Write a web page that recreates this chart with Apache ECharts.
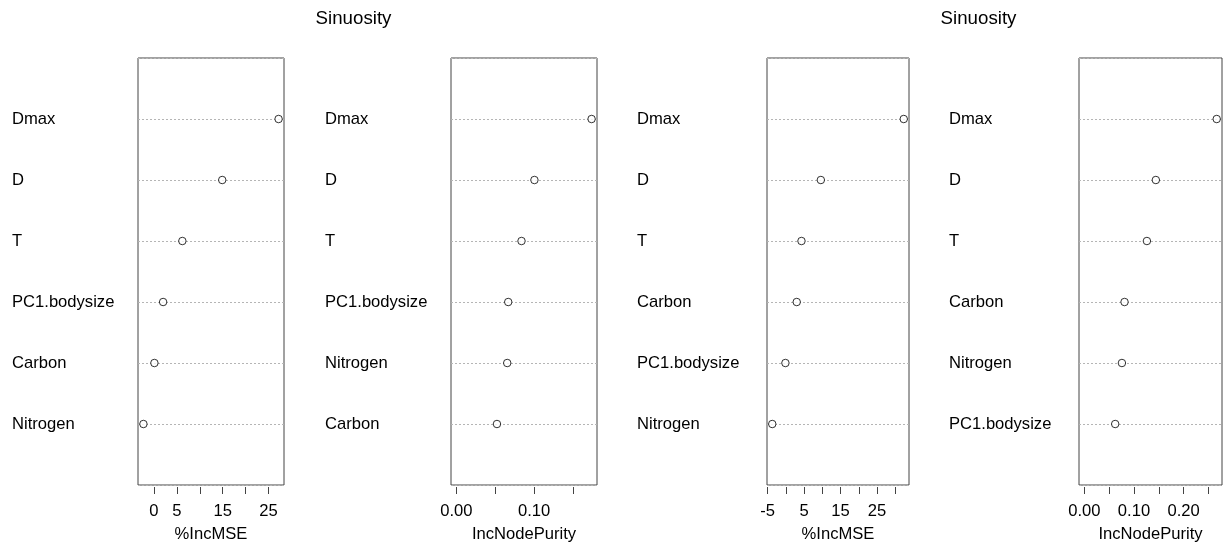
<!DOCTYPE html>
<html>
<head>
<meta charset="utf-8">
<script src="https://cdn.jsdelivr.net/npm/echarts@6/dist/echarts.min.js"></script>
<style>html,body{margin:0;padding:0;background:#fff}#c{width:1227px;height:546px}</style>
</head>
<body>
<div id="c"></div>
<script>
// ---- data ----
const titleText = 'Sinuosity';

const p1Names = ['Dmax', 'D', 'T', 'PC1.bodysize', 'Carbon', 'Nitrogen'];
const p1Values = [27.2, 14.9, 6.2, 2.0, 0.1, -2.3];
const p1Ticks = [0, 5, 10, 15, 20, 25];
const p1Labels = [0, 5, 15, 25];

const p2Names = ['Dmax', 'D', 'T', 'PC1.bodysize', 'Nitrogen', 'Carbon'];
const p2Values = [0.174, 0.1004, 0.0838, 0.0667, 0.0654, 0.0522];
const p2Ticks = [0, 0.05, 0.10, 0.15];
const p2Labels = [0, 0.10];

const p3Names = ['Dmax', 'D', 'T', 'Carbon', 'PC1.bodysize', 'Nitrogen'];
const p3Values = [32.3, 9.6, 4.3, 3.0, -0.1, -3.7];
const p3Ticks = [-5, 0, 5, 10, 15, 20, 25, 30];
const p3Labels = [-5, 5, 15, 25];

const p4Names = ['Dmax', 'D', 'T', 'Carbon', 'Nitrogen', 'PC1.bodysize'];
const p4Values = [0.2665, 0.144, 0.126, 0.081, 0.0757, 0.0622];
const p4Ticks = [0, 0.05, 0.10, 0.15, 0.20, 0.25];
const p4Labels = [0, 0.10, 0.20];

const xNames = ['%IncMSE', 'IncNodePurity', '%IncMSE', 'IncNodePurity'];

// ---- layout ----
const panels = [
  {names: p1Names, values: p1Values, ticks: p1Ticks, labels: p1Labels, left: 138, width: 146, labelX: 12, dec: 0, zeroMin: false},
  {names: p2Names, values: p2Values, ticks: p2Ticks, labels: p2Labels, left: 451, width: 146, labelX: 325, dec: 2, zeroMin: true},
  {names: p3Names, values: p3Values, ticks: p3Ticks, labels: p3Labels, left: 767, width: 142, labelX: 637, dec: 0, zeroMin: false},
  {names: p4Names, values: p4Values, ticks: p4Ticks, labels: p4Labels, left: 1079, width: 143, labelX: 949, dec: 2, zeroMin: true}
];
const gridTop = 58, gridHeight = 427;
const FONT = 'Liberation Sans, Arial, sans-serif';
const FS = 16.6;

const grid = [], xAxis = [], yAxis = [], series = [];
panels.forEach((p, i) => {
  const n = p.names.length;
  let lo = Math.min(...p.values), hi = Math.max(...p.values);
  if (p.zeroMin) lo = Math.min(0, lo);
  const pad = (hi - lo) * 0.04;
  grid.push({left: p.left, top: gridTop, width: p.width, height: gridHeight,
    outerBoundsMode: 'none', containLabel: false,
    show: true, borderColor: '#444', borderWidth: 1, backgroundColor: 'transparent'});
  xAxis.push({
    type: 'value', gridIndex: i, position: 'bottom', min: lo - pad, max: hi + pad, offset: 2,
    axisLine: {show: true, onZero: false, lineStyle: {color: '#444', opacity: 0}},
    axisTick: {show: true, inside: false, length: 7, customValues: p.ticks, lineStyle: {color: '#444', opacity: 1}},
    axisLabel: {customValues: p.labels, margin: 16, color: '#000', fontSize: FS, fontFamily: FONT,
      formatter: v => Number(v).toFixed(p.dec)},
    splitLine: {show: false},
    name: xNames[i], nameLocation: 'middle', nameGap: 39,
    nameTextStyle: {color: '#000', fontSize: FS, fontFamily: FONT}
  });
  yAxis.push({
    type: 'value', gridIndex: i, min: 0, max: n + 1, interval: 1, inverse: true,
    axisLine: {show: false}, axisTick: {show: false},
    axisLabel: {align: 'left', margin: p.left - p.labelX, color: '#000', fontSize: FS, fontFamily: FONT,
      padding: [13, 0, 0, 0],
      formatter: v => (v >= 1 && v <= n) ? p.names[v - 1] : ''},
    splitLine: {show: true, lineStyle: {color: '#b5b5b5', type: [2, 2], width: 1}}
  });
  series.push({
    type: 'scatter', xAxisIndex: i, yAxisIndex: i, z: 3,
    symbol: 'circle', symbolSize: 7.5,
    itemStyle: {color: '#fff', borderColor: '#000', borderWidth: 1},
    data: p.values.map((v, k) => [v, k + 1])
  });
});

const chart = echarts.init(document.getElementById('c'), null, {renderer: 'canvas'});
chart.setOption({
  animation: false,
  backgroundColor: '#fff',
  title: [
    {text: titleText, left: 348.5, top: 4, textAlign: 'center', textStyle: {color: '#000', fontSize: 18.7, fontWeight: 'normal', fontFamily: FONT}},
    {text: titleText, left: 973.5, top: 4, textAlign: 'center', textStyle: {color: '#000', fontSize: 18.7, fontWeight: 'normal', fontFamily: FONT}}
  ],
  grid, xAxis, yAxis, series
});
</script>
</body>
</html>
